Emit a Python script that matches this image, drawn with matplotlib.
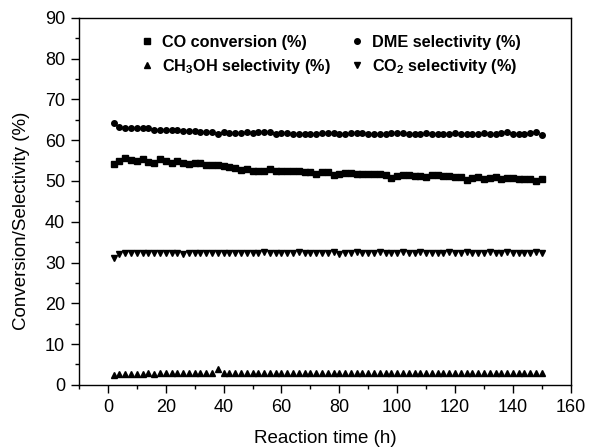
import matplotlib.pyplot as plt
from matplotlib.ticker import MultipleLocator

plt.rcParams['font.family'] = 'Liberation Sans'
plt.rcParams['mathtext.fontset'] = 'custom'
plt.rcParams['mathtext.rm'] = 'Liberation Sans:bold'
plt.rcParams['mathtext.bf'] = 'Liberation Sans:bold'
plt.rcParams['mathtext.default'] = 'bf'

# time on stream (h)
hours = [2, 4, 6, 8, 10, 12, 14, 16, 18, 20, 22, 24, 26, 28, 30, 32, 34, 36, 38, 40,
         42, 44, 46, 48, 50, 52, 54, 56, 58, 60, 62, 64, 66, 68, 70, 72, 74, 76, 78, 80,
         82, 84, 86, 88, 90, 92, 94, 96, 98, 100, 102, 104, 106, 108, 110, 112, 114, 116, 118, 120,
         122, 124, 126, 128, 130, 132, 134, 136, 138, 140, 142, 144, 146, 148, 150]

co_conv = [54.2, 54.8, 55.7, 55.2, 55.0, 55.3, 54.6, 54.4, 55.4, 55.0,
           54.3, 54.8, 54.5, 54.2, 54.5, 54.3, 54.0, 54.0, 54.0, 53.8,
           53.5, 53.3, 52.6, 52.9, 52.5, 52.4, 52.4, 53.0, 52.5, 52.5,
           52.5, 52.4, 52.4, 52.3, 52.1, 51.7, 52.2, 52.1, 51.5, 51.6,
           51.9, 52.0, 51.8, 51.8, 51.7, 51.6, 51.6, 51.5, 50.7, 51.3,
           51.4, 51.4, 51.3, 51.3, 51.1, 51.4, 51.4, 51.3, 51.2, 51.1,
           51.0, 50.3, 50.8, 51.0, 50.5, 50.7, 51.0, 50.6, 50.7, 50.7,
           50.6, 50.6, 50.5, 50.0, 50.5]

dme_sel = [64.3, 63.3, 63.1, 63.0, 63.0, 62.9, 62.9, 62.5, 62.4, 62.4,
           62.6, 62.4, 62.3, 62.3, 62.2, 62.1, 62.0, 62.0, 61.5, 61.9,
           61.8, 61.8, 61.8, 62.0, 61.8, 62.1, 62.0, 61.9, 61.5, 61.7,
           61.7, 61.6, 61.5, 61.6, 61.6, 61.6, 61.7, 61.7, 61.7, 61.6,
           61.6, 61.7, 61.8, 61.7, 61.6, 61.5, 61.6, 61.6, 61.7, 61.8,
           61.7, 61.6, 61.6, 61.6, 61.7, 61.6, 61.5, 61.6, 61.6, 61.7,
           61.6, 61.6, 61.6, 61.6, 61.7, 61.6, 61.6, 61.7, 62.1, 61.6,
           61.6, 61.6, 61.7, 62.0, 61.3]

meoh_sel = [2.5, 2.7, 2.7, 2.7, 2.7, 2.7, 2.8, 2.7, 2.8, 2.8,
            2.8, 2.8, 2.8, 2.8, 2.8, 2.8, 2.8, 2.8, 3.8, 2.9,
            2.9, 2.9, 2.9, 2.9, 2.9, 3.0, 2.9, 2.9, 2.9, 2.9,
            2.9, 2.9, 2.9, 3.0, 2.9, 2.9, 2.9, 2.9, 2.9, 2.9,
            2.9, 2.9, 2.9, 3.0, 2.9, 2.9, 2.9, 2.9, 2.9, 2.9,
            3.0, 2.9, 2.9, 2.9, 2.9, 2.9, 3.0, 2.9, 2.9, 2.9,
            2.9, 2.9, 2.9, 3.0, 2.9, 2.9, 2.9, 2.9, 2.9, 2.9,
            2.9, 2.9, 2.9, 2.9, 2.9]

co2_sel = [31.2, 32.1, 32.3, 32.3, 32.3, 32.3, 32.4, 32.3, 32.4, 32.4,
           32.3, 32.4, 32.2, 32.4, 32.4, 32.3, 32.4, 32.4, 32.3, 32.4,
           32.4, 32.3, 32.4, 32.4, 32.3, 32.4, 32.5, 32.4, 32.4, 32.3,
           32.4, 32.4, 32.5, 32.4, 32.4, 32.3, 32.4, 32.4, 32.5, 32.1,
           32.4, 32.4, 32.5, 32.4, 32.4, 32.4, 32.5, 32.4, 32.4, 32.4,
           32.5, 32.4, 32.4, 32.5, 32.4, 32.4, 32.3, 32.4, 32.5, 32.4,
           32.4, 32.5, 32.4, 32.4, 32.4, 32.5, 32.4, 32.4, 32.5, 32.4,
           32.4, 32.4, 32.3, 32.5, 32.3]

fig = plt.figure(figsize=(5.89, 4.48), dpi=100)
ax = fig.add_axes([0.134, 0.141, 0.835, 0.819])

l_co, = ax.plot(hours, co_conv, 's', color='black', ms=4, label='CO conversion (%)')
l_dme, = ax.plot(hours, dme_sel, 'o', color='black', ms=4, label='DME selectivity (%)')
l_meoh, = ax.plot(hours, meoh_sel, '^', color='black', ms=4.5, label='CH$_3$OH selectivity (%)')
l_co2, = ax.plot(hours, co2_sel, 'v', color='black', ms=4.5, label='CO$_2$ selectivity (%)')

ax.set_xlim(-10, 160)
ax.set_ylim(0, 90)
ax.xaxis.set_major_locator(MultipleLocator(20))
ax.xaxis.set_minor_locator(MultipleLocator(10))
ax.yaxis.set_major_locator(MultipleLocator(10))
ax.yaxis.set_minor_locator(MultipleLocator(5))
ax.tick_params(which='both', direction='out', top=False, right=False, labelsize=13, width=1)
ax.tick_params(which='major', length=6, pad=4)
ax.tick_params(which='minor', length=3)
for s in ax.spines.values():
    s.set_linewidth(1)

ax.set_xlabel('Reaction time (h)', fontsize=13.5, labelpad=10)
ax.set_ylabel('Conversion/Selectivity (%)', fontsize=13.5)
ax.yaxis.set_label_coords(-0.100, 0.447)

leg = ax.legend([l_co, l_meoh, l_dme, l_co2],
                ['CO conversion (%)', 'CH$_3$OH selectivity (%)',
                 'DME selectivity (%)', 'CO$_2$ selectivity (%)'],
                ncol=2, frameon=False, loc='upper left', bbox_to_anchor=(0.125, 0.953),
                borderpad=0, borderaxespad=0,
                prop={'weight': 'bold', 'size': 11.7}, handlelength=0.8,
                handletextpad=0.5, columnspacing=1.25, labelspacing=0.4)

fig.savefig('out.png', dpi=100)
